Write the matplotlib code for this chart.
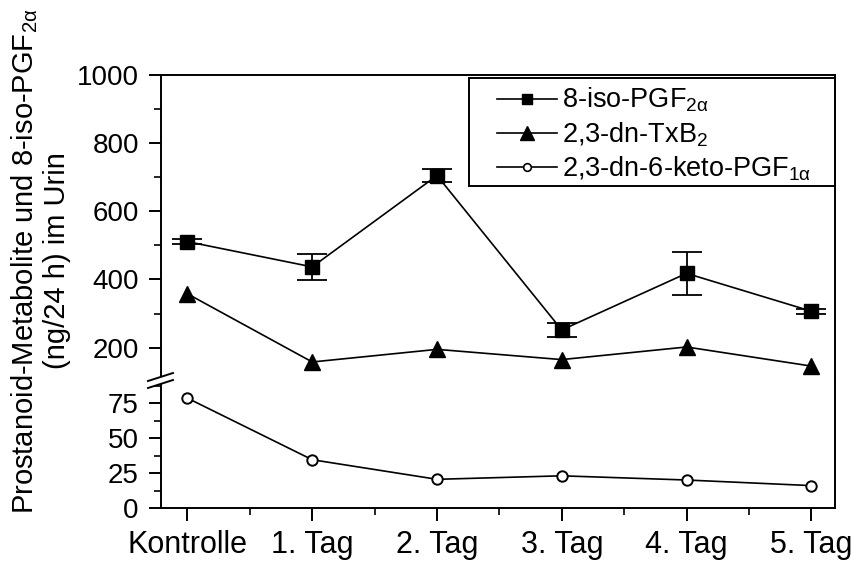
import numpy as np
import matplotlib
matplotlib.use("Agg")
import matplotlib.pyplot as plt
from matplotlib.lines import Line2D
from matplotlib.patches import Polygon, Rectangle

plt.rcParams['font.family'] = ['Liberation Sans', 'DejaVu Sans']
plt.rcParams['mathtext.fontset'] = 'custom'
plt.rcParams['mathtext.rm'] = 'Liberation Sans'
plt.rcParams['mathtext.it'] = 'Liberation Sans'
plt.rcParams['mathtext.default'] = 'regular'

# data
days = ["Kontrolle", "1. Tag", "2. Tag", "3. Tag", "4. Tag", "5. Tag"]
iso_pgf = [511, 437, 705, 252, 418, 307]
iso_err = [8, 38, 20, 20, 64, 7]
txb2 = [358, 158, 195, 165, 202, 146]
keto = [78.5, 34.5, 20.5, 23, 20, 16]
legend_labels = ['8-iso-PGF$_{2\\alpha}$', '2,3-dn-TxB$_2$', '2,3-dn-6-keto-PGF$_{1\\alpha}$']

W, H = 854, 561
fig = plt.figure(figsize=(W / 100, H / 100), dpi=100)

def fx(px):
    return px / W

def fy(py):
    return 1 - py / H

left, right = 161, 835
top, brk, bottom = 75, 378, 508

ax_top = fig.add_axes([fx(left), fy(brk), fx(right) - fx(left), fy(top) - fy(brk)])
ax_bot = fig.add_axes([fx(left), fy(bottom), fx(right) - fx(left), fy(brk) - fy(bottom)])

x = np.arange(len(days))
lw = 1.2
fs = 20

ax_top.errorbar(x, iso_pgf, yerr=iso_err, color='black', lw=lw, marker='s', ms=10,
                capsize=10.5, capthick=1.3, elinewidth=1.3)
ax_top.plot(x, txb2, color='black', lw=lw, marker='^', ms=11)
ax_bot.plot(x, keto, color='black', lw=lw, marker='o', ms=7.5, mfc='white', mew=1.4)

for ax in (ax_top, ax_bot):
    ax.set_xlim(-0.212, 5.19)
    for s in ax.spines.values():
        s.set_linewidth(1.4)
    ax.tick_params(which='major', direction='out', length=9, width=1.4, labelsize=fs, pad=7)
    ax.tick_params(which='minor', direction='out', length=5, width=1.2)

ax_top.set_ylim(111, 1000)
ax_top.set_yticks([200, 400, 600, 800, 1000])
ax_top.set_yticks([300, 500, 700, 900], minor=True)
ax_top.spines['bottom'].set_visible(False)
ax_top.set_xticks([])
ax_top.tick_params(axis='x', which='both', bottom=False, labelbottom=False)

ax_bot.set_ylim(0, 92.9)
ax_bot.set_yticks([0, 25, 50, 75])
ax_bot.set_yticks([12.5, 37.5, 62.5, 87.5], minor=True)
ax_bot.spines['top'].set_visible(False)
ax_bot.set_xticks(x)
ax_bot.set_xticklabels(days)
ax_bot.set_xticks(x[:-1] + 0.5, minor=True)
ax_bot.tick_params(axis='x', which='major', pad=7, labelsize=22)

# legend: frame drawn by hand so the padding matches
h_iso = Line2D([], [], color='black', lw=lw, marker='s', ms=7.5)
h_tx = Line2D([], [], color='black', lw=lw, marker='^', ms=10)
h_keto = Line2D([], [], color='black', lw=lw, marker='o', ms=5.5, mfc='white', mew=1.2)
leg = ax_top.legend([h_iso, h_tx, h_keto], legend_labels,
                    loc='upper left', bbox_to_anchor=(fx(497), fy(86)),
                    bbox_transform=fig.transFigure, fontsize=19.5, frameon=False,
                    handlelength=2.2, handletextpad=0.2, labelspacing=0.22,
                    borderpad=0, borderaxespad=0)
fig.add_artist(Rectangle((fx(469), fy(186)), fx(835) - fx(469), fy(78) - fy(186),
                         transform=fig.transFigure, facecolor='none',
                         edgecolor='black', lw=1.4, zorder=4))

# axis break marks on the left spine
x0, x1 = 148, 173
gap = 7
y_a0, y_a1 = 381, 373
poly = Polygon([(fx(x0), fy(y_a0)), (fx(x1), fy(y_a1)), (fx(x1), fy(y_a1 + gap)),
                (fx(x0), fy(y_a0 + gap))], closed=True, facecolor='white',
               edgecolor='none', transform=fig.transFigure, zorder=5)
fig.add_artist(poly)
for d in (0, gap):
    fig.add_artist(Line2D([fx(x0), fx(x1)], [fy(y_a0 + d), fy(y_a1 + d)],
                          color='black', lw=1.4, transform=fig.transFigure, zorder=6))

fig.text(fx(40), fy(261),
         'Prostanoid-Metabolite und 8-iso-PGF$_{2\\alpha}$\n(ng/24 h) im Urin',
         rotation=90, ha='center', va='center', fontsize=21, linespacing=1.12)

fig.savefig('out.png', dpi=100)
